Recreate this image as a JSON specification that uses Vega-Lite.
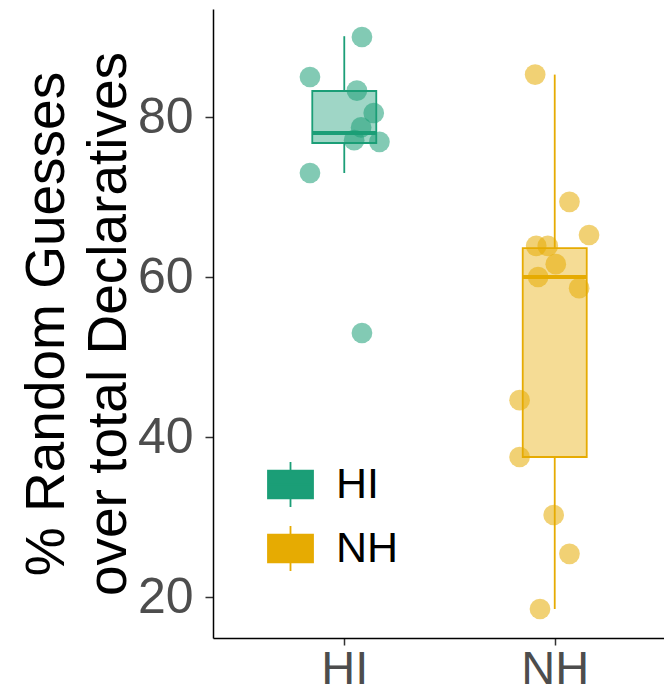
{
  "$schema": "https://vega.github.io/schema/vega-lite/v6.json",
  "width": 473,
  "height": 629,
  "padding": {"left": 19, "top": 9, "right": 0, "bottom": 0},
  "background": "white",
  "config": {
    "view": {"stroke": null},
    "font": "Liberation Sans",
    "axis": {
      "grid": false,
      "domainColor": "#000000",
      "domainWidth": 1.5,
      "tickColor": "#333333",
      "tickWidth": 1.5,
      "tickSize": 8,
      "labelFont": "Liberation Sans",
      "labelFontSize": 50,
      "labelColor": "#4D4D4D",
      "labelPadding": 6,
      "titleFont": "Liberation Sans"
    }
  },
  "datasets": {
    "points": [
      {"group": "HI", "xpos": 1.084, "pct": 90.0},
      {"group": "HI", "xpos": 0.837, "pct": 85.0},
      {"group": "HI", "xpos": 1.060, "pct": 83.3},
      {"group": "HI", "xpos": 1.140, "pct": 80.5},
      {"group": "HI", "xpos": 1.080, "pct": 78.7},
      {"group": "HI", "xpos": 1.047, "pct": 77.1},
      {"group": "HI", "xpos": 1.167, "pct": 76.9},
      {"group": "HI", "xpos": 0.837, "pct": 73.0},
      {"group": "HI", "xpos": 1.084, "pct": 53.0},
      {"group": "NH", "xpos": 1.907, "pct": 85.3},
      {"group": "NH", "xpos": 2.070, "pct": 69.4},
      {"group": "NH", "xpos": 2.163, "pct": 65.25},
      {"group": "NH", "xpos": 1.912, "pct": 63.9},
      {"group": "NH", "xpos": 1.967, "pct": 63.9},
      {"group": "NH", "xpos": 2.005, "pct": 61.6},
      {"group": "NH", "xpos": 1.921, "pct": 60.0},
      {"group": "NH", "xpos": 2.116, "pct": 58.6},
      {"group": "NH", "xpos": 1.833, "pct": 44.6},
      {"group": "NH", "xpos": 1.833, "pct": 37.5},
      {"group": "NH", "xpos": 1.995, "pct": 30.25},
      {"group": "NH", "xpos": 2.070, "pct": 25.4},
      {"group": "NH", "xpos": 1.930, "pct": 18.5}
    ],
    "boxes": [
      {"group": "HI", "xpos": 1, "lo": 73.0, "q1": 76.75, "med": 78.0, "q3": 83.25, "hi": 90.1},
      {"group": "NH", "xpos": 2, "lo": 18.5, "q1": 37.5, "med": 60.0, "q3": 63.6, "hi": 85.3}
    ]
  },
  "layer": [
    {
      "data": {"name": "boxes"},
      "mark": {"type": "bar", "size": 64, "fillOpacity": 0.42, "strokeWidth": 1.8, "orient": "vertical"},
      "encoding": {
        "x": {
          "field": "xpos",
          "type": "quantitative",
          "scale": {"domain": [0.4, 2.6], "nice": false, "zero": false},
          "axis": {"values": [1, 2], "labelExpr": "datum.value == 1 ? 'HI' : 'NH'", "title": null, "labelFlush": false, "labelFontSize": 47, "labelPadding": 1, "tickSize": 7}
        },
        "y": {
          "field": "q1",
          "type": "quantitative",
          "scale": {"domain": [14.875, 93.5], "nice": false, "zero": false},
          "axis": {
            "values": [20, 40, 60, 80],
            "labelPadding": 12,
            "title": ["% Random Guesses", "over total Declaratives"],
            "titleFontSize": 55,
            "titleFontWeight": "normal",
            "titleColor": "#000000",
            "titleLineHeight": 62,
            "titlePadding": 0
          }
        },
        "y2": {"field": "q3"},
        "color": {
          "field": "group",
          "type": "nominal",
          "scale": {"domain": ["HI", "NH"], "range": ["#1B9E77", "#E6AB02"]},
          "legend": {
            "title": null,
            "orient": "none",
            "legendX": 54,
            "legendY": 452,
            "labelFontSize": 43,
            "labelColor": "#000000",
            "labelOffset": 22,
            "rowPadding": 11,
            "symbolSize": 2025,
            "symbolType": "M-1,-0.62H1V0.62H-1Z M-1,0H1 M0,-0.62V-1 M0,0.62V1",
            "symbolStrokeWidth": 1.8
          }
        },
        "stroke": {"field": "group", "type": "nominal", "scale": {"domain": ["HI", "NH"], "range": ["#1B9E77", "#E6AB02"]}, "legend": null}
      }
    },
    {
      "data": {"name": "boxes"},
      "mark": {"type": "rule", "strokeWidth": 1.8},
      "encoding": {
        "x": {"field": "xpos", "type": "quantitative"},
        "y": {"field": "lo", "type": "quantitative"},
        "y2": {"field": "q1"},
        "color": {"field": "group", "type": "nominal"}
      }
    },
    {
      "data": {"name": "boxes"},
      "mark": {"type": "rule", "strokeWidth": 1.8},
      "encoding": {
        "x": {"field": "xpos", "type": "quantitative"},
        "y": {"field": "q3", "type": "quantitative"},
        "y2": {"field": "hi"},
        "color": {"field": "group", "type": "nominal"}
      }
    },
    {
      "data": {"name": "boxes"},
      "mark": {"type": "tick", "orient": "horizontal", "size": 64, "thickness": 4, "opacity": 1},
      "encoding": {
        "x": {"field": "xpos", "type": "quantitative"},
        "y": {"field": "med", "type": "quantitative"},
        "color": {"field": "group", "type": "nominal"}
      }
    },
    {
      "data": {"name": "points"},
      "mark": {"type": "circle", "size": 430, "opacity": 0.55},
      "encoding": {
        "x": {"field": "xpos", "type": "quantitative"},
        "y": {"field": "pct", "type": "quantitative"},
        "color": {"field": "group", "type": "nominal"}
      }
    }
  ]
}
